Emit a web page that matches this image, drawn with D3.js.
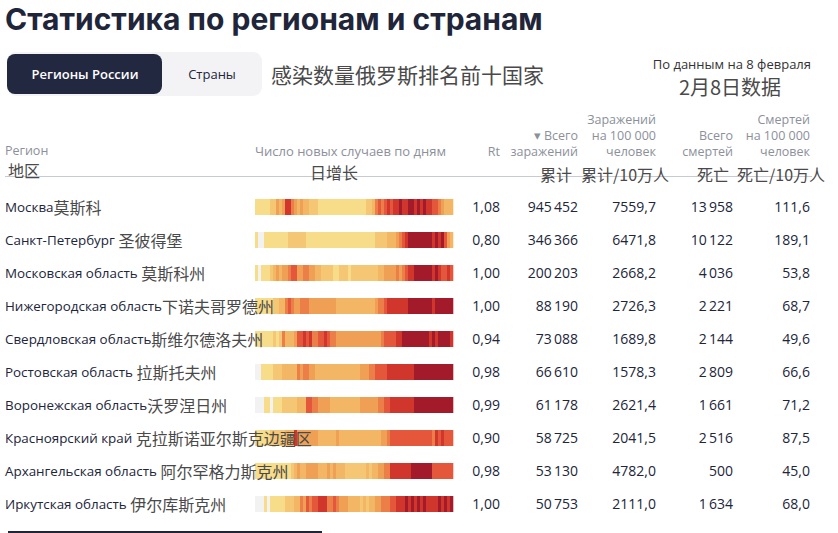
<!DOCTYPE html>
<html>
<head>
<meta charset="utf-8">
<script src="https://cdn.jsdelivr.net/npm/d3@7"></script>
<style>
  body { margin: 0; background: #fff; }
  svg text { font-family: "Open Sans", sans-serif; }
  .zh { font-family: "Noto Sans CJK SC", sans-serif; fill: #4a4a4a; }
  .head { fill: #8c909b; font-size: 12.5px; }
</style>
</head>
<body>
<div id="chart"></div>
<script>
// data

var regionsRu = ["Москва", "Санкт-Петербург", "Московская область", "Нижегородская область",
  "Свердловская область", "Ростовская область", "Воронежская область", "Красноярский край",
  "Архангельская область", "Иркутская область"];
var regionsZh = ["莫斯科", " 圣彼得堡", " 莫斯科州", "下诺夫哥罗德州", "斯维尔德洛夫州",
  " 拉斯托夫州", "沃罗涅日州", " 克拉斯诺亚尔斯克边疆区", " 阿尔罕格力斯克州", " 伊尔库斯克州"];
var rt = [1.08, 0.80, 1.00, 1.00, 0.94, 0.98, 0.99, 0.90, 0.98, 1.00];
var totalCases = [945452, 346366, 200203, 88190, 73088, 66610, 61178, 58725, 53130, 50753];
var casesPer100k = [7559.7, 6471.8, 2668.2, 2726.3, 1689.8, 1578.3, 2621.4, 2041.5, 4782.0, 2111.0];
var totalDeaths = [13958, 10122, 4036, 2221, 2144, 2809, 1661, 2516, 500, 1634];
var deathsPer100k = [111.6, 189.1, 53.8, 68.7, 49.6, 66.6, 71.2, 87.5, 45.0, 68.0];

// new cases per day, as colour level 0 (none) .. 8 (highest), one row per region
var dailyLevels = [
  [1,1,1,1,1, 2,2,4,3,4, 7,7,5,4,3, 4,3,3,2,2, 2, 1,1,1,1,1,1,1,1,1,1,1,1,1,1,1,1,
   2,2,3, 5,6,5,6,7,6,7,7,8,7, 7,8,8,7,8,7,8,7,7,6, 6,5,4,3,3,3],
  [1,0,0, 1,1,1,1,1,1,1,1, 2,2,2,2,2,2, 1,1,1,1,1,1,1,1,1,1,1,1,1,1,1,1,1,1,1,1,1,1,1,
   2,2,2,2, 3,3,3, 4,5,6,7, 8,8,8,8,8,8,8,8, 7,8,7,8,6,4,3],
  [1,0,1,1,1, 2,3,4,3,4, 4,5,6,6,4, 4,5,5,4,4, 3,3,2,2,2, 2,1,1,2,2, 2,1,2,2,2,
   2,2,2,2,2, 2,3,3,4,4, 4,4,5,4,5, 6,7,7,8,8, 8,8,8,8,7, 8,7,6,6,7, 6],
  [1,1,1,1,1,1, 2,2,3,3, 5,6,5,4,4,5,5,5,4, 4,4,4,4,4,4,4,4, 3,3,3,3,3,3,3,3,3,3,3,3,3,
   4,5,5,6,7,7,7,7,7,7,7, 8,8,8,8,8,8,8,8, 7, 8,8,8,8,8,8],
  [1,1,1,1,1,1, 2,1,2,5, 3,3,3,4, 6,6,7,6,7, 5,5,6,6,7,6,5,5, 4,4,4,4,4,4,4,4,4,4,4,4,4,4,4,
   5,6,6,6,6,7,7, 8,8,8,8,8,8,8,8,8, 7,8,7,8,8,8,8,7],
  [0,0,1,1,1, 1,2,2,2,3, 3,3,3,3,5, 4,5,5,4,4, 3, 3,3,3,3,3,3,3,3,3,3,3,3,3,3,
   4,4,4,5,5,6,6,6,6, 7,7,7,7,7,7,7,7,7, 8,8,8,8,8,8,8,8,8,8,8,8,8],
  [0,0,0,1,1, 0,1,1,1,2, 2,2,2,2,3, 3,3,6,6,5, 5,4,4,4,4, 3,3,3,3,3,3,3,3,3,3,
   4,4,4,4,4,4, 5,5,6,6, 7,7,7,7,7,7,7,7, 8,8,8,8,8,8,8,8,8,8,8,8,8],
  [1,1,1,1,1, 2,2,2,2,2, 3,3,3, 7, 4,4,4,4,4,4,4, 3,3,3,3,3,3, 4, 3,3,3,3,3,3,3,3,3,3,3,3,3,3,
   4,4,5,6,6, 6,6,6,6,6,6,6,6,6,6,6,6, 5,7,6,7,6,6,6],
  [1,1,1,1,1,1,1,1,1,1,1,1, 2,3,4,3,3,4,4,4,4,3,3,3,4,3,4,3,3,3, 2,2,2,2,2,2,2,
   3,2,3,3, 4,4,5,5, 7,7,7,7,7,7,7, 8,8,8,8,8,8,8, 6,6,6,6,6,6,6],
  [0,0,0,1,0, 1,1,1,1,1, 2,2,2,3,3, 5,4,6,5,6, 6,7,7,7,5, 5,6,5,4,4, 4,3,3,3,3, 2,3,2,3,3,
   4,4,5,5,5,6,6,7,7,7, 8,7,8,7,8,7,8,7,7,7,7,8,7,8,7,8]
];
var levelColors = ["#f2f2f2", "#f7dc89", "#f5c774", "#f2b664", "#f0a055", "#ec7f47", "#e5573a", "#d1362c", "#a31b2b"];

// column headers
var columns = [
  { key: "rt", right: 500, lines: ["Rt"] },
  { key: "total", right: 578, lines: ["▾ Всего", "заражений"] },
  { key: "per100k", right: 656, lines: ["Заражений", "на 100 000", "человек"] },
  { key: "deaths", right: 733, lines: ["Всего", "смертей"] },
  { key: "deathsPer", right: 810, lines: ["Смертей", "на 100 000", "человек"] }
];
var headersZh = ["地区", "日增长", "累计", "累计/10万人", "死亡", "死亡/10万人"];

var svgWidth = 838;
var svgHeight = 533;

var svg = d3.select("#chart")
  .append("svg")
  .attr("width", svgWidth)
  .attr("height", svgHeight);

// number formats, russian style
var ru = d3.formatLocale({ decimal: ",", thousands: "\u2009", grouping: [3], currency: ["", ""] });
var fmtInt = ru.format(",d");
var fmt1 = ru.format(".1f");
var fmt2 = ru.format(".2f");

var values = {
  rt: rt.map(fmt2),
  total: totalCases.map(fmtInt),
  per100k: casesPer100k.map(fmt1),
  deaths: totalDeaths.map(fmtInt),
  deathsPer: deathsPer100k.map(fmt1)
};

// title
svg.append("text")
  .attr("x", 5)
  .attr("y", 30)
  .style("font-family", "Inter, sans-serif")
  .style("font-weight", 700)
  .style("font-size", "30px")
  .style("fill", "#21253a")
  .text("Статистика по регионам и странам");

// tabs
svg.append("rect")
  .attr("x", 7).attr("y", 52).attr("width", 255).attr("height", 44)
  .attr("rx", 9).attr("fill", "#f3f3f5");
svg.append("rect")
  .attr("x", 7).attr("y", 54).attr("width", 155).attr("height", 40)
  .attr("rx", 8).attr("fill", "#232841");
svg.append("text")
  .attr("x", 85).attr("y", 79)
  .style("text-anchor", "middle").style("font-size", "13px").style("font-weight", 600)
  .style("fill", "#fff")
  .text("Регионы России");
svg.append("text")
  .attr("x", 212).attr("y", 79)
  .style("text-anchor", "middle").style("font-size", "13px")
  .style("fill", "#21253a")
  .text("Страны");
svg.append("text")
  .attr("class", "zh")
  .attr("x", 271).attr("y", 83)
  .style("font-size", "21px")
  .text("感染数量俄罗斯排名前十国家");

// date
svg.append("text")
  .attr("x", 811).attr("y", 69)
  .style("text-anchor", "end").style("font-size", "13px").style("fill", "#333")
  .text("По данным на 8 февраля");
svg.append("text")
  .attr("class", "zh")
  .attr("x", 730).attr("y", 95)
  .style("text-anchor", "middle").style("font-size", "20px")
  .text("2月8日数据");

// scales
var xDay = d3.scaleBand()
  .domain(d3.range(dailyLevels[0].length))
  .range([255, 453]);

var yRow = d3.scaleBand()
  .domain(d3.range(regionsRu.length))
  .range([190.5, 520.5]);

var color = d3.scaleOrdinal()
  .domain(d3.range(levelColors.length))
  .range(levelColors);

// header
var headBase = 156;
svg.append("text").attr("class", "head").attr("x", 5).attr("y", headBase - 1).text("Регион");
svg.append("text").attr("class", "head").attr("x", 255).attr("y", headBase)
  .style("font-size", "13px")
  .text("Число новых случаев по дням");

columns.forEach(function(c) {
  var n = c.lines.length;
  c.lines.forEach(function(line, i) {
    svg.append("text")
      .attr("class", "head")
      .attr("x", c.right)
      .attr("y", headBase - (n - 1 - i) * 16)
      .style("text-anchor", "end")
      .text(line);
  });
});

svg.append("line")
  .attr("x1", 5).attr("x2", 812)
  .attr("y1", 176.5).attr("y2", 176.5)
  .attr("stroke", "#c8cad1").attr("stroke-width", 1);

// chinese notes on the header
var zhPos = [[8, 177], [310, 179], [540, 181], [581, 181], [697, 181], [737, 181]];
headersZh.forEach(function(t, i) {
  svg.append("text").attr("class", "zh")
    .attr("x", zhPos[i][0]).attr("y", zhPos[i][1])
    .style("font-size", "16px")
    .text(t);
});

// rows
var rows = svg.selectAll(".row")
  .data(d3.range(regionsRu.length))
  .enter()
  .append("g")
  .attr("class", "row")
  .attr("transform", d => `translate(0, ${yRow(d) + yRow.bandwidth() / 2})`);

// heat strips
rows.each(function(r) {
  d3.select(this).selectAll(".day")
    .data(dailyLevels[r])
    .enter()
    .append("rect")
    .attr("class", "day")
    .attr("x", (d, i) => xDay(i))
    .attr("y", -8)
    .attr("width", xDay.bandwidth() + 0.3)
    .attr("height", 16)
    .attr("fill", d => color(d));
});

// region names, chinese part drawn on top of the strip
var label = rows.append("text")
  .attr("x", 5)
  .attr("y", 5)
  .style("font-size", "13.4px")
  .style("fill", "#21253a");
label.append("tspan").text(d => regionsRu[d]);
label.append("tspan")
  .attr("class", "zh")
  .attr("dy", 2)
  .style("font-size", "16px")
  .style("white-space", "pre")
  .text(d => regionsZh[d]);

columns.forEach(function(c) {
  rows.append("text")
    .attr("x", c.right)
    .attr("y", 5)
    .style("text-anchor", "end")
    .style("font-size", "14px")
    .style("fill", "#21253a")
    .text(d => values[c.key][d]);
});

// bottom rule
svg.append("line")
  .attr("x1", 8).attr("x2", 322)
  .attr("y1", 532).attr("y2", 532)
  .attr("stroke", "#21253a").attr("stroke-width", 2);
</script>
</body>
</html>
